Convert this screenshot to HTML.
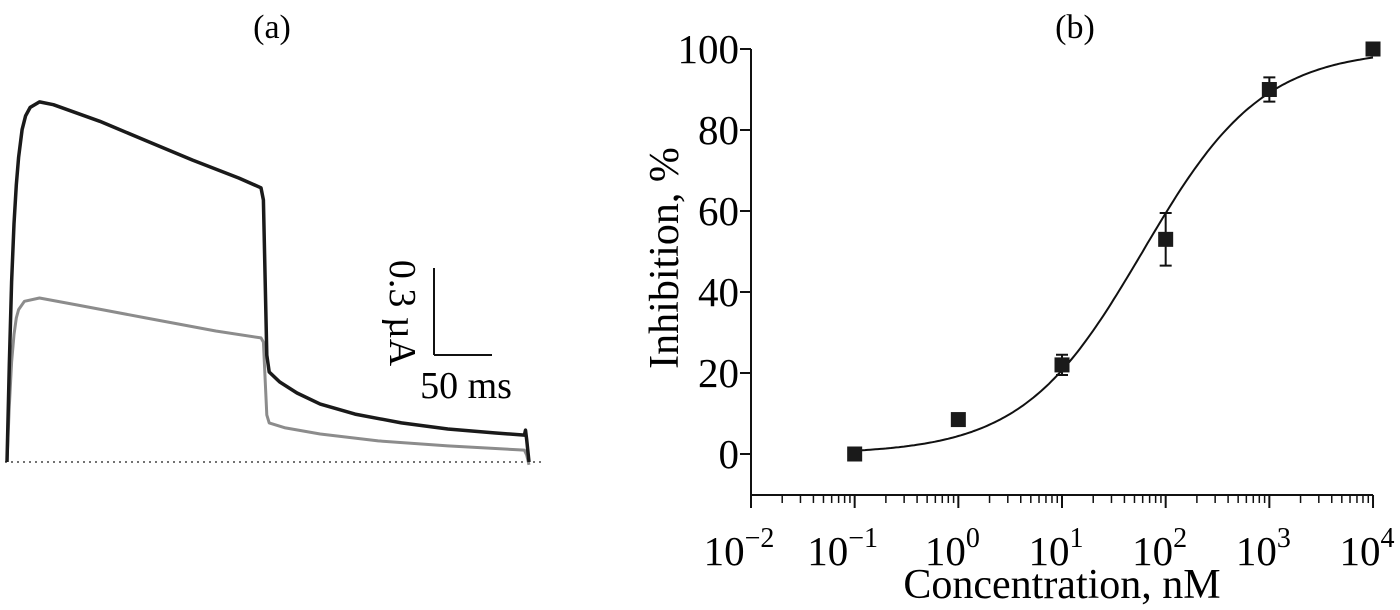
<!DOCTYPE html>
<html><head><meta charset="utf-8"><style>
html,body{margin:0;padding:0;background:#fff;}
svg{display:block;font-family:"Liberation Serif",serif;}
</style></head><body>
<svg id="fig" width="1400" height="610" viewBox="0 0 1400 610" xmlns="http://www.w3.org/2000/svg">
<g id="pa">
<text x="272" y="38" font-size="34" text-anchor="middle">(a)</text>
<line x1="5" y1="462" x2="545" y2="462" stroke="#444" stroke-width="1.5" stroke-dasharray="2,4"/>
<line x1="434" y1="268" x2="434" y2="355" stroke="#111" stroke-width="2"/>
<line x1="434" y1="355" x2="492" y2="355" stroke="#111" stroke-width="2"/>
<text x="0" y="0" font-size="38" text-anchor="middle" transform="translate(390,313) rotate(90)">0.3 µA</text>
<text x="466" y="398" font-size="38" text-anchor="middle">50 ms</text>
</g>
<g id="pb">
<text x="1075" y="38" font-size="34" text-anchor="middle">(b)</text>
<text x="0" y="0" font-size="42" text-anchor="middle" transform="translate(678,258) rotate(-90)">Inhibition, %</text>
<text x="1062" y="598" font-size="42" text-anchor="middle">Concentration, nM</text>
</g>
</svg>
<script>
// Panel (a) traces: time (ms) and current (µA)
const blackT = [0,2,4,6,8,10,13,16,20,28,40,80,120,160,200,219,221,224,226,235,250,270,300,340,380,420,446,447,448,450];
const blackI = [0,0.35,0.65,0.86,1.0,1.1,1.2,1.25,1.28,1.30,1.29,1.23,1.16,1.09,1.025,0.99,0.946,0.386,0.325,0.289,0.249,0.209,0.173,0.141,0.119,0.105,0.097,0.115,0.08,0];
const grayT = [0,2,4,6,8,10,15,28,60,120,180,219,221,224,226,240,270,320,380,446,448,450];
const grayI = [0,0.2,0.36,0.46,0.52,0.55,0.58,0.592,0.567,0.52,0.473,0.448,0.433,0.17,0.141,0.123,0.101,0.076,0.058,0.043,0.025,-0.01];
// Panel (b) data
const conc = [0.1,1,10,100,1000,10000];
const inhib = [0,8.5,22,53,90,100];
const errs = [0,0,2.5,6.5,3,1.5];
const yTicks = [0,20,40,60,80,100];
const xExps = [-2,-1,0,1,2,3,4];
const ic50 = 60, hill = 0.75;

const NS="http://www.w3.org/2000/svg";
const pa=document.getElementById('pa'), pb=document.getElementById('pb');
function mk(tag,attrs,parent){const e=document.createElementNS(NS,tag);for(const k in attrs)e.setAttribute(k,attrs[k]);parent.appendChild(e);return e;}
const ta=t=>7+t*1.16, ia=i=>462-i*277;
function pathFrom(T,I){return T.map((t,k)=>(k?'L':'M')+ta(t).toFixed(1)+','+ia(I[k]).toFixed(1)).join('');}
let g=mk('path',{d:pathFrom(grayT,grayI),fill:'none',stroke:'#8c8c8c','stroke-width':3,'stroke-linejoin':'round'},pa);


let b=mk('path',{d:pathFrom(blackT,blackI),fill:'none',stroke:'#1a1a1a','stroke-width':3.5,'stroke-linejoin':'round'},pa);



// axes b
const X0=751,DEC=103.67;
const xs=c=>X0+(Math.log10(c)+2)*DEC;
const ys=v=>454-v*4.05;
let ax=mk('path',{d:`M${X0},49 L${X0},495 L${X0+6*DEC},495`,fill:'none',stroke:'#111','stroke-width':2},pb);


yTicks.forEach(v=>{
  let l=mk('line',{x1:X0-11,x2:X0,y1:ys(v),y2:ys(v),stroke:'#111','stroke-width':2},pb);
  
  
  let t=mk('text',{x:X0-12,y:ys(v)+14,'font-size':41,'text-anchor':'end'},pb);
  t.textContent=v;
  
  
});
xExps.forEach((e,k)=>{
  const x=xs(Math.pow(10,e));
  let l=mk('line',{x1:x,x2:x,y1:495,y2:508,stroke:'#111','stroke-width':2},pb);
  
  
  if(k<xExps.length-1){for(let m=2;m<=9;m++){const xm=xs(m*Math.pow(10,e));
    let n=mk('line',{x1:xm,x2:xm,y1:495,y2:503,stroke:'#111','stroke-width':1.5},pb);
    
    }}
  let t=mk('text',{x:x-(e<0?12:6),y:565,'font-size':41,'text-anchor':'middle'},pb);
  t.textContent='10';
  
  
  let s=mk('tspan',{dx:0,dy:-18,'font-size':28},t);
  s.textContent=e<0?'\u2212'+(-e):String(e);
});
// fit curve
let d='';for(let k=0;k<=200;k++){const lc=-1+k*5/200,c=Math.pow(10,lc);const v=100/(1+Math.pow(ic50/c,hill));d+=(k?'L':'M')+xs(c).toFixed(1)+','+ys(v).toFixed(1);}
let fc=mk('path',{d:d,fill:'none',stroke:'#111','stroke-width':2},pb);


conc.forEach((c,k)=>{
  const x=xs(c),y=ys(inhib[k]);
  if(errs[k]>0){const y1=ys(inhib[k]+errs[k]),y2=ys(inhib[k]-errs[k]);
    let e=mk('path',{d:`M${x},${y1}L${x},${y2}M${x-6},${y1}L${x+6},${y1}M${x-6},${y2}L${x+6},${y2}`,stroke:'#111','stroke-width':2,fill:'none'},pb);
    
    }
  let r=mk('rect',{x:x-7.5,y:y-7.5,width:15,height:15,fill:'#1a1a1a'},pb);
  
  
});
</script>
</body></html>
